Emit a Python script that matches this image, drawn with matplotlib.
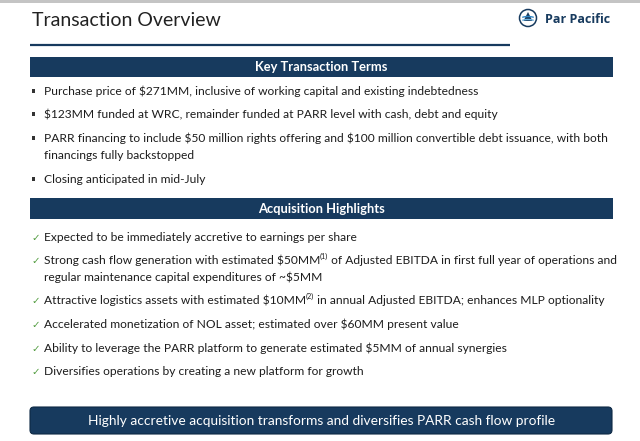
import matplotlib
matplotlib.use('Agg')
import matplotlib.pyplot as plt
from matplotlib.patches import Rectangle, FancyBboxPatch, Circle, Polygon, Arc

# ---------------- content ----------------
title = "Transaction Overview"
brand = "Par Pacific"
header_terms = "Key Transaction Terms"
header_highlights = "Acquisition Highlights"
footer = "Highly accretive acquisition transforms and diversifies PARR cash flow profile"

# each item: list of lines; each line: list of (text, is_superscript)
terms = [
    [[("Purchase price of $271MM, inclusive of working capital and existing indebtedness", False)]],
    [[("$123MM funded at WRC, remainder funded at PARR level with cash, debt and equity", False)]],
    [[("PARR financing to include $50 million rights offering and $100 million convertible debt issuance, with both", False)],
     [("financings fully backstopped", False)]],
    [[("Closing anticipated in mid-July", False)]],
]
highlights = [
    [[("Expected to be immediately accretive to earnings per share", False)]],
    [[("Strong cash flow generation with estimated $50MM", False), ("(1)", True),
      (" of Adjusted EBITDA in first full year of operations and", False)],
     [("regular maintenance capital expenditures of ~$5MM", False)]],
    [[("Attractive logistics assets with estimated $10MM", False), ("(2)", True),
      (" in annual Adjusted EBITDA; enhances MLP optionality", False)]],
    [[("Accelerated monetization of NOL asset; estimated over $60MM present value", False)]],
    [[("Ability to leverage the PARR platform to generate estimated $5MM of annual synergies", False)]],
    [[("Diversifies operations by creating a new platform for growth", False)]],
]
terms_y = [91, 114, 138, 179]
highlights_y = [237, 260, 300, 324, 348, 371]
line_gap = 17

# ---------------- style ----------------
NAVY = '#173a5e'
TEXT = '#1c1c1c'
GREEN = '#4f9a3c'
FONT = ['Lato', 'DejaVu Sans']
LEFT, RIGHT = 30, 613
TEXT_X = 43.5

W, H = 640, 441
fig = plt.figure(figsize=(6.4, 4.41), dpi=100)
ax = fig.add_axes([0, 0, 1, 1])
ax.set_xlim(0, W)
ax.set_ylim(H, 0)
ax.axis('off')
renderer = fig.canvas.get_renderer()


def text_width(s, size, weight='normal', family=FONT):
    t = ax.text(0, 0, s, fontsize=size, family=family, weight=weight, parse_math=False)
    w = t.get_window_extent(renderer=renderer).width
    t.remove()
    return w


def fit_size(s, target, weight='normal', family=FONT):
    return 10 * target / text_width(s, 10, weight, family)


body = fit_size(terms[0][0][0][0], 434)
title_size = fit_size(title, 189)
head_size = fit_size(header_terms, 133, 'bold')
foot_size = fit_size(footer, 466)
BRAND_FONT = ['Open Sans', 'DejaVu Sans']
brand_size = fit_size(brand, 65, 'bold', BRAND_FONT)


def baseline(yc, size):
    return yc + 0.36 * size * 100 / 72


def draw_runs(x, yc, runs, size, color):
    yb = baseline(yc, size)
    for s, sup in runs:
        if sup:
            t = ax.text(x, yb - size * 0.42 * 100 / 72, s, fontsize=size * 0.6, family=FONT,
                        color=color, va='baseline', ha='left', parse_math=False)
        else:
            t = ax.text(x, yb, s, fontsize=size, family=FONT, color=color,
                        va='baseline', ha='left', parse_math=False)
        x += t.get_window_extent(renderer=renderer).width


# top grey border
ax.add_patch(Rectangle((0, 0), W, 2.5, facecolor='#c4c4c4', edgecolor='none'))

# title and rule
ax.text(32, baseline(19, title_size), title, fontsize=title_size, family=FONT,
        color='#222222', va='baseline', ha='left', parse_math=False)
ax.plot([LEFT, 510], [45, 45], color=NAVY, lw=1.6, solid_capstyle='butt')

# logo
ax.add_patch(Circle((528, 18), 8.5, facecolor='white', edgecolor=NAVY, lw=1.1))
ax.add_patch(Polygon([(523.5, 21), (528, 12), (532.5, 21)], closed=True,
                     facecolor=NAVY, edgecolor='none'))
for dy, c in [(22.5, '#2f86c6'), (25.5, '#6fb3e0')]:
    ax.add_patch(Arc((528, dy - 3), 16, 6, theta1=200, theta2=340, color=c, lw=1.0))
ax.text(545, baseline(19, brand_size), brand, fontsize=brand_size, family=BRAND_FONT,
        weight='bold', color=NAVY, va='baseline', ha='left', parse_math=False)

# header bars
for (y0, y1), label in [((57, 76.5), header_terms), ((198, 218.5), header_highlights)]:
    ax.add_patch(Rectangle((LEFT, y0), RIGHT - LEFT, y1 - y0, facecolor=NAVY, edgecolor='none'))
    ax.text((LEFT + RIGHT) / 2, baseline((y0 + y1) / 2, head_size), label, fontsize=head_size,
            family=FONT, weight='bold', color='white', va='baseline', ha='center',
            parse_math=False)

# bullet list
for item, yc in zip(terms, terms_y):
    ax.add_patch(Rectangle((31.5, yc - 2), 3.6, 3.6, facecolor='#333333', edgecolor='none'))
    for i, runs in enumerate(item):
        draw_runs(TEXT_X, yc + i * line_gap, runs, body, TEXT)

# check list
for item, yc in zip(highlights, highlights_y):
    ax.text(31.5, baseline(yc, body * 0.85), '\u2713', fontsize=body * 0.85,
            family=['DejaVu Sans'], color=GREEN, va='baseline', ha='left')
    for i, runs in enumerate(item):
        draw_runs(TEXT_X, yc + i * line_gap, runs, body, TEXT)

# footer box
ax.add_patch(FancyBboxPatch((LEFT, 407), RIGHT - LEFT - 1, 27,
                            boxstyle='round,pad=0,rounding_size=4',
                            facecolor=NAVY, edgecolor='#0e2944', lw=0.8))
ax.text((LEFT + RIGHT) / 2, baseline(420.5, foot_size), footer, fontsize=foot_size,
        family=FONT, color='white', va='baseline', ha='center', parse_math=False)

fig.savefig('out.png', dpi=100, facecolor='white')
